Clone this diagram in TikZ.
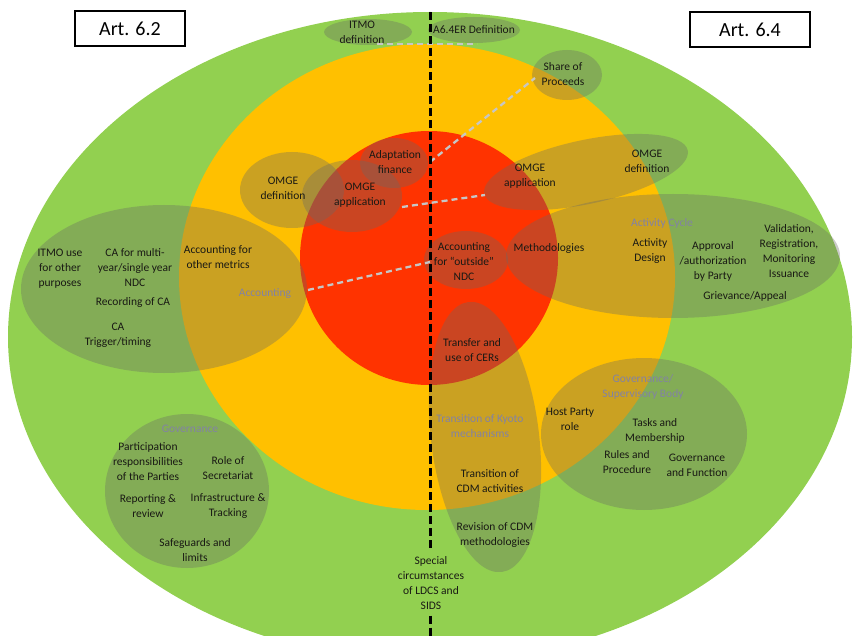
\documentclass[tikz,border=0pt]{standalone}
\usepackage{fontspec}
\setmainfont{Carlito}
\usetikzlibrary{shapes.geometric}
\definecolor{lgreen}{RGB}{146,208,80}
\definecolor{lyellow}{RGB}{255,192,0}
\definecolor{lred}{RGB}{255,51,0}
\definecolor{ovgray}{RGB}{105,105,100}
\definecolor{labgray}{RGB}{130,130,165}
\definecolor{dashgray}{RGB}{198,198,198}
\definecolor{txt}{RGB}{25,25,20}
\begin{document}
\begin{tikzpicture}[x=1pt,y=-1pt,
  disc/.style={ellipse, draw=none, inner sep=0pt},
  ov/.style={ellipse, draw=none, fill=ovgray, fill opacity=0.35, inner sep=0pt},
  lbl/.style={align=center, font=\fontsize{11.5}{15}\selectfont, text=txt, inner sep=0pt},
  glbl/.style={lbl, text=labgray},
  link/.style={draw=dashgray, line width=2.3pt, dash pattern=on 6pt off 4pt},
  divider/.style={draw=black, line width=3pt, dash pattern=on 8pt off 4pt},
  artbox/.style={draw=black, line width=1.5pt, fill=white, minimum height=35pt, inner sep=0pt, font=\fontsize{20}{24}\selectfont}
]
\useasboundingbox (0,0) rectangle (854,636);
\clip (0,0) rectangle (854,636);
% main discs
\node[disc, fill=lgreen, minimum width=844pt, minimum height=650pt] (green) at (430,337) {};
\node[disc, fill=lyellow, minimum width=496pt, minimum height=466pt] (yellow) at (427,277) {};
\node[disc, fill=lred, minimum width=258pt, minimum height=254pt] (red) at (429,258) {};
% overlay ellipses
\node[ov, minimum width=88pt, minimum height=26pt] (itmodef) at (368,32) {};
\node[ov, minimum width=92pt, minimum height=26pt] (a64def) at (474,30) {};
\node[ov, minimum width=70pt, minimum height=50pt] (share) at (567,75) {};
\node[ov, minimum width=104pt, minimum height=76pt] (omgedefl) at (292,190) {};
\node[ov, minimum width=68pt, minimum height=50pt] (adapt) at (394,163) {};
\node[ov, minimum width=100pt, minimum height=72pt] (omgeappl) at (352,196) {};
\node[ov, rotate=12, minimum width=208pt, minimum height=64pt] (omger) at (586,172) {};
\node[ov, minimum width=286pt, minimum height=168pt] (acct) at (164,289) {};
\node[ov, minimum width=84pt, minimum height=58pt] (outside) at (466,260) {};
\node[ov, minimum width=334pt, minimum height=124pt] (cycle) at (673,256) {};
\node[ov, rotate=7, minimum width=108pt, minimum height=272pt] (kyoto) at (485,437) {};
\node[ov, minimum width=206pt, minimum height=152pt] (gsb) at (644,434) {};
\node[ov, minimum width=164pt, minimum height=154pt] (gov) at (187,491) {};
% grey dashed links
\coordinate (l1a) at (377,44); \coordinate (l1b) at (477,44);
\coordinate (l2a) at (430,162); \coordinate (l2b) at (535,78);
\coordinate (l3a) at (402,207); \coordinate (l3b) at (485,195);
\coordinate (l4a) at (308,290); \coordinate (l4b) at (430,262);
\draw[link] (l1a) -- (l1b);
\draw[link] (l2a) -- (l2b);
\draw[link] (l3a) -- (l3b);
\draw[link] (l4a) -- (l4b);
% special circumstances + divider
\node[lbl, outer sep=6pt] (special) at (431,583) {Special\\circumstances\\of LDCS and\\SIDS};
\coordinate (vtop) at (430,12);
\coordinate (vbot) at (430,642);
\draw[divider] (vtop) -- (special.north -| vtop);
\draw[divider] (special.south -| vtop) -- (vbot);
% labels
\node[lbl] (t1) at (362,32) {ITMO\\definition};
\node[lbl] (t2) at (474,30) {A6.4ER Definition};
\node[lbl] (t3) at (563,74) {Share of\\Proceeds};
\node[lbl] (t4) at (395,162) {Adaptation\\finance};
\node[lbl] (t5) at (283,188) {OMGE\\definition};
\node[lbl] (t6) at (360,195) {OMGE\\application};
\node[lbl] (t7) at (530,176) {OMGE\\application};
\node[lbl] (t8) at (647,161) {OMGE\\definition};
\node[lbl] (t9) at (218,257) {Accounting for\\other metrics};
\node[glbl] (t10) at (265,294) {Accounting};
\node[lbl] (t11) at (60,269) {ITMO use\\for other\\purposes};
\node[lbl] (t12) at (135,268) {CA for multi-\\year/single year\\NDC};
\node[lbl] (t13) at (133,302) {Recording of CA};
\node[lbl] (t14) at (118,335) {CA\\Trigger/timing};
\node[lbl] (t15) at (464,262) {Accounting\\for ``outside''\\NDC};
\node[lbl] (t16) at (549,248) {Methodologies};
\node[glbl] (t17) at (662,223) {Activity Cycle};
\node[lbl] (t18) at (650,251) {Activity\\Design};
\node[lbl] (t19) at (713,261) {Approval\\/authorization\\by Party};
\node[lbl] (t20) at (789,251) {Validation,\\Registration,\\Monitoring\\Issuance};
\node[lbl] (t21) at (745,296) {Grievance/Appeal};
\node[lbl] (t22) at (472,350) {Transfer and\\use of CERs};
\node[glbl] (t23) at (480,426) {Transition of Kyoto\\mechanisms};
\node[lbl] (t24) at (490,481) {Transition of\\CDM activities};
\node[lbl] (t25) at (495,535) {Revision of CDM\\methodologies};
\node[glbl] (t26) at (643,387) {Governance/\\Supervisory Body};
\node[lbl] (t27) at (570,419) {Host Party\\role};
\node[lbl] (t28) at (655,431) {Tasks and\\Membership};
\node[lbl] (t29) at (627,462) {Rules and\\Procedure};
\node[lbl] (t30) at (697,465) {Governance\\and Function};
\node[glbl] (t31) at (190,429) {Governance};
\node[lbl] (t32) at (148,462) {Participation\\responsibilities\\of the Parties};
\node[lbl] (t33) at (228,468) {Role of\\Secretariat};
\node[lbl] (t34) at (148,506) {Reporting \&\\review};
\node[lbl] (t35) at (228,506) {Infrastructure \&\\Tracking};
\node[lbl] (t36) at (195,550) {Safeguards and\\limits};
% article boxes
\node[artbox, minimum width=110pt] (art62) at (130,28.5) {Art. 6.2};
\node[artbox, minimum width=120pt] (art64) at (750,29.5) {Art. 6.4};
\end{tikzpicture}
\end{document}
